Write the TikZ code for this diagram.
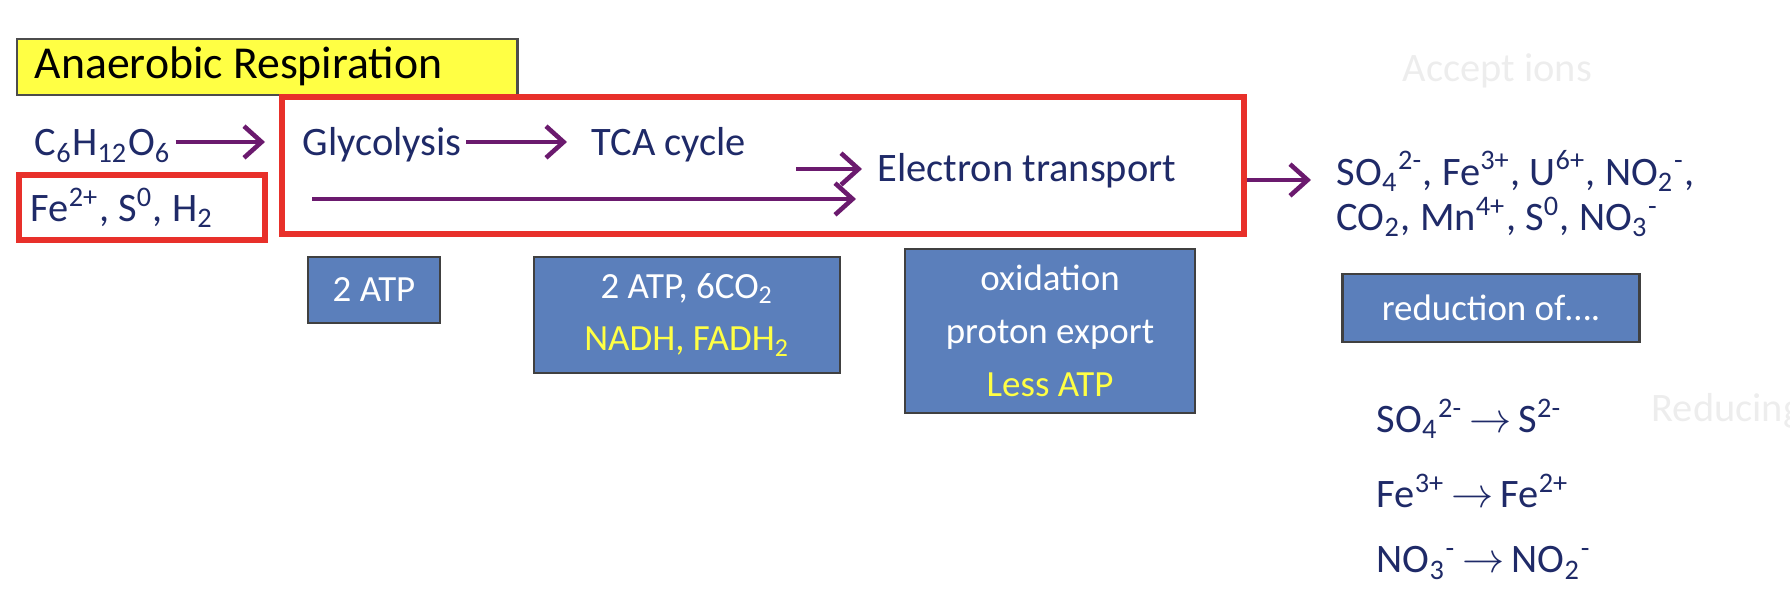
\documentclass[tikz,border=0pt]{standalone}
\usepackage{fontspec}
\setmainfont{Carlito}
\usetikzlibrary{arrows.meta,positioning}
\definecolor{navy}{HTML}{1F2A68}
\definecolor{plum}{HTML}{6B1A6E}
\definecolor{boxblue}{HTML}{5B7FBB}
\definecolor{hlyellow}{HTML}{FFFF44}
\definecolor{boxred}{HTML}{E8302A}
\newcommand{\sub}[1]{\textsubscript{#1}}
\newcommand{\spr}[1]{\textsuperscript{#1}}
\newcommand{\yields}{\,$\rightarrow$\,}

\begin{document}
\begin{tikzpicture}[x=0.01cm,y=-0.01cm,
    font=\fontsize{11.5}{13}\selectfont,
    txt/.style={text=navy,inner sep=0pt,anchor=west},
    flow/.style={-{Straight Barb[length=5pt,width=9pt]},draw=plum,line width=1.3pt},
    bluebox/.style={draw=black!75,fill=boxblue,line width=0.7pt,text=white,align=center,
      font=\fontsize{10.5}{15}\selectfont},
    redbox/.style={draw=boxred,line width=1.6pt}]
  \useasboundingbox (0,0) rectangle (1790,592);

  % title
  \node[draw=black!70,fill=hlyellow,line width=0.7pt,minimum width=5cm,minimum height=0.56cm,
    anchor=north west] (title) at (16,38) {};
  \node[anchor=west,inner sep=0pt,font=\fontsize{13}{15}\selectfont] (titletxt) at (34,66) {Anaerobic Respiration};

  % frames
  \draw[redbox] (282,97) rectangle (1244,234);
  \draw[redbox] (19,175) rectangle (265,240);

  % substrates and steps
  \node[txt] (glucose) at (34,146) {C\sub{6}H\sub{12}O\sub{6}};
  \node[txt] (donors) at (30,208) {Fe\spr{2+}, S\spr{0}, H\sub{2}};
  \node[txt] (glyco) at (302,145) {Glycolysis};
  \node[txt] (tca) at (591,145) {TCA cycle};
  \node[txt] (etc) at (877,171) {Electron transport};
  \coordinate (gin) at (265,142);
  \coordinate (tin) at (567,142);
  \coordinate (tstart) at (796,169);
  \coordinate (tend) at (862,169);
  \coordinate (lstart) at (312,199);
  \coordinate (lend) at (856,199);
  \coordinate (oend) at (1311,180);

  \draw[flow] (glucose.east) ++(4,-4) -- (gin);
  \draw[flow] (glyco.east) ++(4,-3) -- (tin);
  \draw[flow] (tstart) -- (tend);
  \draw[flow] (lstart) -- (lend);
  \draw[flow] (1247,180) -- (oend);

  % acceptors
  \node[txt] (acc1) at (1336,171) {SO\sub{4}\spr{2-}, Fe\spr{3+}, U\spr{6+}, NO\sub{2}\spr{-},};
  \node[txt] (acc2) at (1336,217) {CO\sub{2}, Mn\spr{4+}, S\spr{0}, NO\sub{3}\spr{-}};
  \node[txt,text=black!7] (accept) at (1402,71) {Accept ions};
  \node[txt,text=black!7] (reducing) at (1651,411) {Reducing};

  % yields
  \node[bluebox,minimum width=1.32cm,minimum height=0.66cm] (atp1) at (374,290) {2 ATP};
  \node[bluebox,minimum width=3.06cm,minimum height=1.16cm] (atp2) at (687,315)
    {2 ATP, 6CO\sub{2}\\\textcolor{hlyellow}{NADH, FADH\sub{2}}};
  \node[bluebox,minimum width=2.9cm,minimum height=1.64cm] (oxid) at (1050,331)
    {oxidation\\proton export\\\textcolor{hlyellow}{Less ATP}};
  \node[bluebox,minimum width=2.97cm,minimum height=0.68cm] (reduc) at (1491,308) {reduction of\dots.};

  % reductions
  \node[txt] (rsulf) at (1376,419) {SO\sub{4}\spr{2-}\yields S\spr{2-}};
  \node[txt] (riron) at (1376,491) {Fe\spr{3+}\yields Fe\spr{2+}};
  \node[txt] (rnitr) at (1376,563) {NO\sub{3}\spr{-}\yields NO\sub{2}\spr{-}};
\end{tikzpicture}
\end{document}
